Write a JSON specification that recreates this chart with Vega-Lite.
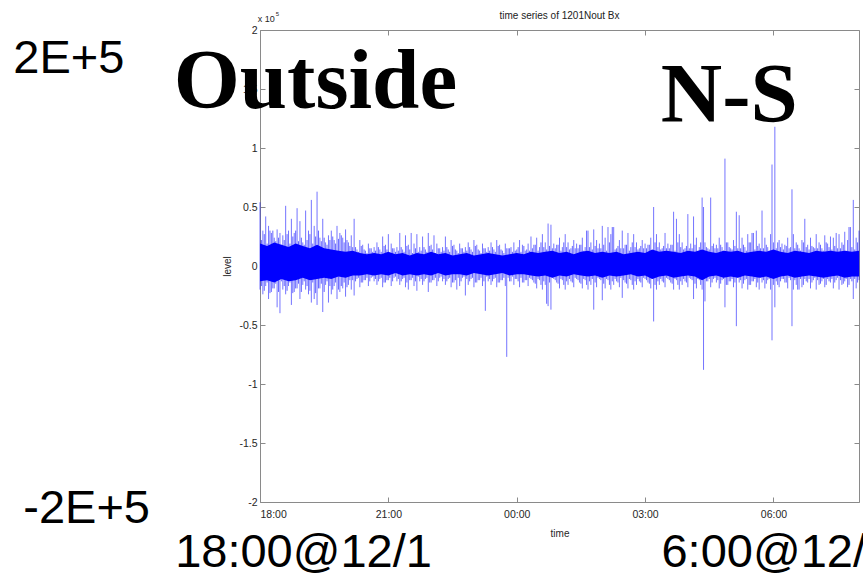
{
  "$schema": "https://vega.github.io/schema/vega-lite/v6.json",
  "width": 599,
  "height": 472,
  "autosize": {"type": "none"},
  "padding": {"left": 260, "top": 30, "right": 4, "bottom": 75},
  "background": "white",
  "config": {
    "view": {"stroke": null},
    "font": "Liberation Sans",
    "axis": {
      "grid": false,
      "domainColor": "#8a8a8a",
      "tickColor": "#8a8a8a",
      "labelColor": "#262626",
      "titleColor": "#262626",
      "labelFont": "Liberation Sans",
      "titleFont": "Liberation Sans",
      "labelFontSize": 10.5,
      "titleFontSize": 10,
      "titleFontWeight": "normal",
      "tickSize": -5
    }
  },
  "title": {"text": "time series of 1201Nout Bx", "fontSize": 10, "fontWeight": "normal", "font": "Liberation Sans", "color": "#222222", "offset": -10},
  "datasets": {
    "core": [
      {"m":0,"top":0.19,"bot":-0.13},{"m":10,"top":0.17,"bot":-0.12},{"m":20,"top":0.2,"bot":-0.14},{"m":30,"top":0.18,"bot":-0.11},
      {"m":40,"top":0.16,"bot":-0.13},{"m":50,"top":0.19,"bot":-0.12},{"m":60,"top":0.17,"bot":-0.1},{"m":70,"top":0.15,"bot":-0.12},
      {"m":80,"top":0.18,"bot":-0.11},{"m":90,"top":0.15,"bot":-0.1},{"m":100,"top":0.14,"bot":-0.11},{"m":110,"top":0.13,"bot":-0.09},
      {"m":120,"top":0.12,"bot":-0.1},{"m":130,"top":0.13,"bot":-0.08},{"m":140,"top":0.11,"bot":-0.08},{"m":150,"top":0.1,"bot":-0.07},
      {"m":160,"top":0.11,"bot":-0.08},{"m":170,"top":0.1,"bot":-0.07},{"m":180,"top":0.12,"bot":-0.08},{"m":190,"top":0.1,"bot":-0.06},
      {"m":200,"top":0.11,"bot":-0.08},{"m":210,"top":0.09,"bot":-0.07},{"m":220,"top":0.11,"bot":-0.08},{"m":230,"top":0.1,"bot":-0.07},
      {"m":240,"top":0.12,"bot":-0.08},{"m":250,"top":0.1,"bot":-0.06},{"m":260,"top":0.11,"bot":-0.08},{"m":270,"top":0.09,"bot":-0.07},
      {"m":280,"top":0.1,"bot":-0.07},{"m":290,"top":0.11,"bot":-0.08},{"m":300,"top":0.09,"bot":-0.06},{"m":310,"top":0.1,"bot":-0.07},
      {"m":320,"top":0.11,"bot":-0.08},{"m":330,"top":0.1,"bot":-0.07},{"m":340,"top":0.09,"bot":-0.06},{"m":350,"top":0.1,"bot":-0.08},
      {"m":360,"top":0.11,"bot":-0.07},{"m":370,"top":0.1,"bot":-0.07},{"m":380,"top":0.12,"bot":-0.08},{"m":390,"top":0.11,"bot":-0.09},
      {"m":400,"top":0.12,"bot":-0.08},{"m":410,"top":0.13,"bot":-0.1},{"m":420,"top":0.11,"bot":-0.08},{"m":430,"top":0.12,"bot":-0.09},
      {"m":440,"top":0.1,"bot":-0.07},{"m":450,"top":0.12,"bot":-0.08},{"m":460,"top":0.13,"bot":-0.09},{"m":470,"top":0.11,"bot":-0.08},
      {"m":480,"top":0.12,"bot":-0.1},{"m":490,"top":0.11,"bot":-0.08},{"m":500,"top":0.12,"bot":-0.09},{"m":510,"top":0.1,"bot":-0.08},
      {"m":520,"top":0.11,"bot":-0.07},{"m":530,"top":0.12,"bot":-0.09},{"m":540,"top":0.11,"bot":-0.08},{"m":550,"top":0.14,"bot":-0.11},
      {"m":560,"top":0.12,"bot":-0.09},{"m":570,"top":0.13,"bot":-0.08},{"m":580,"top":0.12,"bot":-0.1},{"m":590,"top":0.11,"bot":-0.09},
      {"m":600,"top":0.13,"bot":-0.08},{"m":610,"top":0.12,"bot":-0.09},{"m":620,"top":0.14,"bot":-0.12},{"m":630,"top":0.12,"bot":-0.09},
      {"m":640,"top":0.11,"bot":-0.08},{"m":650,"top":0.13,"bot":-0.1},{"m":660,"top":0.12,"bot":-0.09},{"m":670,"top":0.13,"bot":-0.1},
      {"m":680,"top":0.11,"bot":-0.08},{"m":690,"top":0.12,"bot":-0.09},{"m":700,"top":0.13,"bot":-0.1},{"m":710,"top":0.12,"bot":-0.09},
      {"m":720,"top":0.14,"bot":-0.11},{"m":730,"top":0.12,"bot":-0.09},{"m":740,"top":0.11,"bot":-0.08},{"m":750,"top":0.13,"bot":-0.1},
      {"m":760,"top":0.12,"bot":-0.09},{"m":770,"top":0.11,"bot":-0.08},{"m":780,"top":0.13,"bot":-0.09},{"m":790,"top":0.12,"bot":-0.1},
      {"m":800,"top":0.13,"bot":-0.09},{"m":810,"top":0.12,"bot":-0.08},{"m":820,"top":0.13,"bot":-0.1},{"m":830,"top":0.12,"bot":-0.09},
      {"m":840,"top":0.13,"bot":-0.09}
    ],
    "series": [
      {"m":0,"hi":0.54,"lo":-0.2},{"m":4,"hi":0.3,"lo":-0.24},{"m":8,"hi":0.42,"lo":-0.17},{"m":12,"hi":0.34,"lo":-0.28},
      {"m":16,"hi":0.28,"lo":-0.22},{"m":20,"hi":0.24,"lo":-0.19},{"m":24,"hi":0.31,"lo":-0.35},{"m":28,"hi":0.28,"lo":-0.4},
      {"m":32,"hi":0.26,"lo":-0.2},{"m":36,"hi":0.51,"lo":-0.24},{"m":40,"hi":0.3,"lo":-0.17},{"m":44,"hi":0.4,"lo":-0.33},
      {"m":48,"hi":0.28,"lo":-0.22},{"m":52,"hi":0.49,"lo":-0.19},{"m":56,"hi":0.38,"lo":-0.28},{"m":60,"hi":0.2,"lo":-0.16},
      {"m":64,"hi":0.47,"lo":-0.2},{"m":68,"hi":0.3,"lo":-0.24},{"m":72,"hi":0.56,"lo":-0.31},{"m":76,"hi":0.34,"lo":-0.28},
      {"m":80,"hi":0.63,"lo":-0.33},{"m":84,"hi":0.24,"lo":-0.19},{"m":88,"hi":0.4,"lo":-0.39},{"m":92,"hi":0.2,"lo":-0.16},
      {"m":96,"hi":0.26,"lo":-0.31},{"m":100,"hi":0.3,"lo":-0.24},{"m":104,"hi":0.22,"lo":-0.17},{"m":108,"hi":0.34,"lo":-0.28},
      {"m":112,"hi":0.28,"lo":-0.22},{"m":116,"hi":0.24,"lo":-0.19},{"m":120,"hi":0.31,"lo":-0.26},{"m":124,"hi":0.2,"lo":-0.16},
      {"m":128,"hi":0.26,"lo":-0.2},{"m":132,"hi":0.4,"lo":-0.25},{"m":136,"hi":0.14,"lo":-0.11},{"m":140,"hi":0.22,"lo":-0.18},
      {"m":144,"hi":0.18,"lo":-0.14},{"m":148,"hi":0.13,"lo":-0.12},{"m":152,"hi":0.19,"lo":-0.17},{"m":156,"hi":0.15,"lo":-0.1},
      {"m":160,"hi":0.16,"lo":-0.13},{"m":164,"hi":0.2,"lo":-0.16},{"m":168,"hi":0.14,"lo":-0.11},{"m":172,"hi":0.25,"lo":-0.18},
      {"m":176,"hi":0.18,"lo":-0.14},{"m":180,"hi":0.27,"lo":-0.12},{"m":184,"hi":0.19,"lo":-0.17},{"m":188,"hi":0.15,"lo":-0.1},
      {"m":192,"hi":0.16,"lo":-0.13},{"m":196,"hi":0.28,"lo":-0.16},{"m":200,"hi":0.14,"lo":-0.11},{"m":204,"hi":0.26,"lo":-0.18},
      {"m":208,"hi":0.18,"lo":-0.2},{"m":212,"hi":0.28,"lo":-0.12},{"m":216,"hi":0.19,"lo":-0.17},{"m":220,"hi":0.27,"lo":-0.21},
      {"m":224,"hi":0.16,"lo":-0.13},{"m":228,"hi":0.25,"lo":-0.16},{"m":232,"hi":0.14,"lo":-0.11},{"m":236,"hi":0.28,"lo":-0.22},
      {"m":240,"hi":0.18,"lo":-0.14},{"m":244,"hi":0.26,"lo":-0.12},{"m":248,"hi":0.19,"lo":-0.17},{"m":252,"hi":0.15,"lo":-0.1},
      {"m":256,"hi":0.16,"lo":-0.13},{"m":260,"hi":0.25,"lo":-0.16},{"m":264,"hi":0.14,"lo":-0.11},{"m":268,"hi":0.22,"lo":-0.18},
      {"m":272,"hi":0.18,"lo":-0.14},{"m":276,"hi":0.13,"lo":-0.2},{"m":280,"hi":0.19,"lo":-0.17},{"m":284,"hi":0.15,"lo":-0.1},
      {"m":288,"hi":0.16,"lo":-0.25},{"m":292,"hi":0.2,"lo":-0.16},{"m":296,"hi":0.14,"lo":-0.11},{"m":300,"hi":0.22,"lo":-0.18},
      {"m":304,"hi":0.18,"lo":-0.14},{"m":308,"hi":0.13,"lo":-0.12},{"m":312,"hi":0.19,"lo":-0.17},{"m":316,"hi":0.15,"lo":-0.38},
      {"m":320,"hi":0.16,"lo":-0.13},{"m":324,"hi":0.2,"lo":-0.16},{"m":328,"hi":0.14,"lo":-0.11},{"m":332,"hi":0.22,"lo":-0.18},
      {"m":336,"hi":0.18,"lo":-0.14},{"m":340,"hi":0.13,"lo":-0.12},{"m":344,"hi":0.19,"lo":-0.17},{"m":346,"hi":0.15,"lo":-0.77},
      {"m":348,"hi":0.15,"lo":-0.1},{"m":352,"hi":0.16,"lo":-0.13},{"m":356,"hi":0.2,"lo":-0.16},{"m":360,"hi":0.14,"lo":-0.11},
      {"m":364,"hi":0.22,"lo":-0.18},{"m":368,"hi":0.18,"lo":-0.14},{"m":372,"hi":0.13,"lo":-0.12},{"m":376,"hi":0.19,"lo":-0.17},
      {"m":380,"hi":0.25,"lo":-0.11},{"m":384,"hi":0.18,"lo":-0.14},{"m":388,"hi":0.24,"lo":-0.19},{"m":392,"hi":0.16,"lo":-0.12},
      {"m":396,"hi":0.27,"lo":-0.2},{"m":400,"hi":0.2,"lo":-0.16},{"m":404,"hi":0.36,"lo":-0.34},{"m":408,"hi":0.35,"lo":-0.37},
      {"m":412,"hi":0.19,"lo":-0.11},{"m":416,"hi":0.18,"lo":-0.14},{"m":420,"hi":0.24,"lo":-0.19},{"m":424,"hi":0.16,"lo":-0.12},
      {"m":428,"hi":0.27,"lo":-0.2},{"m":432,"hi":0.2,"lo":-0.16},{"m":436,"hi":0.15,"lo":-0.13},{"m":440,"hi":0.22,"lo":-0.18},
      {"m":444,"hi":0.19,"lo":-0.11},{"m":448,"hi":0.18,"lo":-0.14},{"m":452,"hi":0.24,"lo":-0.19},{"m":456,"hi":0.16,"lo":-0.12},
      {"m":460,"hi":0.3,"lo":-0.2},{"m":464,"hi":0.2,"lo":-0.16},{"m":468,"hi":0.31,"lo":-0.37},{"m":472,"hi":0.22,"lo":-0.18},
      {"m":476,"hi":0.19,"lo":-0.11},{"m":480,"hi":0.34,"lo":-0.29},{"m":484,"hi":0.24,"lo":-0.19},{"m":488,"hi":0.33,"lo":-0.12},
      {"m":492,"hi":0.27,"lo":-0.2},{"m":496,"hi":0.33,"lo":-0.16},{"m":500,"hi":0.15,"lo":-0.13},{"m":504,"hi":0.22,"lo":-0.18},
      {"m":508,"hi":0.3,"lo":-0.27},{"m":512,"hi":0.18,"lo":-0.14},{"m":516,"hi":0.28,"lo":-0.19},{"m":520,"hi":0.16,"lo":-0.12},
      {"m":524,"hi":0.27,"lo":-0.2},{"m":528,"hi":0.2,"lo":-0.16},{"m":532,"hi":0.15,"lo":-0.13},{"m":536,"hi":0.22,"lo":-0.18},
      {"m":540,"hi":0.19,"lo":-0.11},{"m":544,"hi":0.18,"lo":-0.14},{"m":548,"hi":0.24,"lo":-0.19},{"m":552,"hi":0.5,"lo":-0.47},
      {"m":556,"hi":0.27,"lo":-0.2},{"m":560,"hi":0.2,"lo":-0.16},{"m":564,"hi":0.15,"lo":-0.13},{"m":568,"hi":0.28,"lo":-0.18},
      {"m":572,"hi":0.19,"lo":-0.11},{"m":576,"hi":0.18,"lo":-0.14},{"m":580,"hi":0.46,"lo":-0.2},{"m":584,"hi":0.4,"lo":-0.12},
      {"m":588,"hi":0.27,"lo":-0.2},{"m":592,"hi":0.2,"lo":-0.16},{"m":596,"hi":0.15,"lo":-0.13},{"m":600,"hi":0.44,"lo":-0.18},
      {"m":604,"hi":0.19,"lo":-0.11},{"m":608,"hi":0.42,"lo":-0.28},{"m":612,"hi":0.24,"lo":-0.19},{"m":616,"hi":0.16,"lo":-0.12},
      {"m":620,"hi":0.58,"lo":-0.2},{"m":622,"hi":0.5,"lo":-0.88},{"m":624,"hi":0.2,"lo":-0.3},{"m":628,"hi":0.15,"lo":-0.13},
      {"m":632,"hi":0.58,"lo":-0.18},{"m":636,"hi":0.19,"lo":-0.11},{"m":640,"hi":0.18,"lo":-0.14},{"m":644,"hi":0.24,"lo":-0.19},
      {"m":648,"hi":0.16,"lo":-0.12},{"m":652,"hi":0.91,"lo":-0.35},{"m":656,"hi":0.2,"lo":-0.16},{"m":660,"hi":0.15,"lo":-0.13},
      {"m":664,"hi":0.22,"lo":-0.18},{"m":668,"hi":0.46,"lo":-0.51},{"m":672,"hi":0.43,"lo":-0.14},{"m":676,"hi":0.24,"lo":-0.19},
      {"m":680,"hi":0.16,"lo":-0.12},{"m":684,"hi":0.27,"lo":-0.2},{"m":688,"hi":0.2,"lo":-0.16},{"m":692,"hi":0.28,"lo":-0.13},
      {"m":696,"hi":0.3,"lo":-0.18},{"m":700,"hi":0.19,"lo":-0.2},{"m":704,"hi":0.47,"lo":-0.14},{"m":708,"hi":0.24,"lo":-0.19},
      {"m":712,"hi":0.16,"lo":-0.12},{"m":716,"hi":0.27,"lo":-0.2},{"m":718,"hi":0.86,"lo":-0.63},{"m":720,"hi":0.2,"lo":-0.16},
      {"m":722,"hi":1.18,"lo":-0.35},{"m":724,"hi":0.15,"lo":-0.13},{"m":728,"hi":0.22,"lo":-0.18},{"m":732,"hi":0.19,"lo":-0.11},
      {"m":736,"hi":0.18,"lo":-0.14},{"m":740,"hi":0.24,"lo":-0.19},{"m":744,"hi":0.16,"lo":-0.12},{"m":746,"hi":0.65,"lo":-0.51},
      {"m":748,"hi":0.27,"lo":-0.2},{"m":752,"hi":0.2,"lo":-0.16},{"m":756,"hi":0.15,"lo":-0.2},{"m":760,"hi":0.22,"lo":-0.18},
      {"m":764,"hi":0.4,"lo":-0.11},{"m":768,"hi":0.18,"lo":-0.14},{"m":772,"hi":0.24,"lo":-0.19},{"m":776,"hi":0.16,"lo":-0.12},
      {"m":780,"hi":0.27,"lo":-0.2},{"m":784,"hi":0.2,"lo":-0.16},{"m":788,"hi":0.15,"lo":-0.13},{"m":792,"hi":0.26,"lo":-0.18},
      {"m":796,"hi":0.19,"lo":-0.11},{"m":800,"hi":0.25,"lo":-0.14},{"m":804,"hi":0.24,"lo":-0.19},{"m":808,"hi":0.28,"lo":-0.12},
      {"m":812,"hi":0.27,"lo":-0.2},{"m":816,"hi":0.2,"lo":-0.16},{"m":820,"hi":0.29,"lo":-0.13},{"m":824,"hi":0.22,"lo":-0.18},
      {"m":828,"hi":0.33,"lo":-0.11},{"m":832,"hi":0.56,"lo":-0.28},{"m":836,"hi":0.24,"lo":-0.19},{"m":840,"hi":0.3,"lo":-0.12}
    ],
    "fuzz": [
      {"m":2,"hi":0.22,"lo":-0.17},{"m":6,"hi":0.27,"lo":-0.21},{"m":10,"hi":0.19,"lo":-0.14},{"m":14,"hi":0.3,"lo":-0.23},
      {"m":18,"hi":0.3,"lo":-0.19},{"m":22,"hi":0.21,"lo":-0.15},{"m":26,"hi":0.24,"lo":-0.22},{"m":30,"hi":0.18,"lo":-0.13},
      {"m":34,"hi":0.22,"lo":-0.17},{"m":38,"hi":0.27,"lo":-0.21},{"m":42,"hi":0.19,"lo":-0.14},{"m":46,"hi":0.25,"lo":-0.23},
      {"m":50,"hi":0.3,"lo":-0.19},{"m":54,"hi":0.21,"lo":-0.15},{"m":58,"hi":0.24,"lo":-0.22},{"m":62,"hi":0.18,"lo":-0.13},
      {"m":66,"hi":0.22,"lo":-0.17},{"m":70,"hi":0.27,"lo":-0.21},{"m":74,"hi":0.19,"lo":-0.14},{"m":78,"hi":0.25,"lo":-0.23},
      {"m":82,"hi":0.3,"lo":-0.19},{"m":86,"hi":0.21,"lo":-0.15},{"m":90,"hi":0.24,"lo":-0.22},{"m":94,"hi":0.18,"lo":-0.13},
      {"m":98,"hi":0.22,"lo":-0.17},{"m":102,"hi":0.25,"lo":-0.2},{"m":106,"hi":0.19,"lo":-0.14},{"m":110,"hi":0.23,"lo":-0.2},
      {"m":114,"hi":0.26,"lo":-0.17},{"m":118,"hi":0.2,"lo":-0.14},{"m":122,"hi":0.22,"lo":-0.18},{"m":126,"hi":0.17,"lo":-0.12},
      {"m":130,"hi":0.16,"lo":-0.12},{"m":134,"hi":0.16,"lo":-0.13},{"m":138,"hi":0.12,"lo":-0.1},{"m":142,"hi":0.17,"lo":-0.14},
      {"m":146,"hi":0.14,"lo":-0.12},{"m":150,"hi":0.11,"lo":-0.1},{"m":154,"hi":0.15,"lo":-0.13},{"m":158,"hi":0.12,"lo":-0.09},
      {"m":162,"hi":0.13,"lo":-0.11},{"m":166,"hi":0.16,"lo":-0.13},{"m":170,"hi":0.12,"lo":-0.1},{"m":174,"hi":0.17,"lo":-0.14},
      {"m":178,"hi":0.14,"lo":-0.12},{"m":182,"hi":0.11,"lo":-0.1},{"m":186,"hi":0.15,"lo":-0.13},{"m":190,"hi":0.12,"lo":-0.09},
      {"m":194,"hi":0.13,"lo":-0.11},{"m":198,"hi":0.16,"lo":-0.13},{"m":202,"hi":0.12,"lo":-0.1},{"m":206,"hi":0.17,"lo":-0.14},
      {"m":210,"hi":0.14,"lo":-0.12},{"m":214,"hi":0.11,"lo":-0.1},{"m":218,"hi":0.15,"lo":-0.13},{"m":222,"hi":0.12,"lo":-0.09},
      {"m":226,"hi":0.13,"lo":-0.11},{"m":230,"hi":0.16,"lo":-0.13},{"m":234,"hi":0.12,"lo":-0.1},{"m":238,"hi":0.17,"lo":-0.14},
      {"m":242,"hi":0.14,"lo":-0.12},{"m":246,"hi":0.11,"lo":-0.1},{"m":250,"hi":0.15,"lo":-0.13},{"m":254,"hi":0.12,"lo":-0.09},
      {"m":258,"hi":0.13,"lo":-0.11},{"m":262,"hi":0.16,"lo":-0.13},{"m":266,"hi":0.12,"lo":-0.1},{"m":270,"hi":0.17,"lo":-0.14},
      {"m":274,"hi":0.14,"lo":-0.12},{"m":278,"hi":0.11,"lo":-0.1},{"m":282,"hi":0.15,"lo":-0.13},{"m":286,"hi":0.12,"lo":-0.09},
      {"m":290,"hi":0.13,"lo":-0.11},{"m":294,"hi":0.16,"lo":-0.13},{"m":298,"hi":0.12,"lo":-0.1},{"m":302,"hi":0.17,"lo":-0.14},
      {"m":306,"hi":0.14,"lo":-0.12},{"m":310,"hi":0.11,"lo":-0.1},{"m":314,"hi":0.15,"lo":-0.13},{"m":318,"hi":0.12,"lo":-0.09},
      {"m":322,"hi":0.13,"lo":-0.11},{"m":326,"hi":0.16,"lo":-0.13},{"m":330,"hi":0.12,"lo":-0.1},{"m":334,"hi":0.17,"lo":-0.14},
      {"m":338,"hi":0.14,"lo":-0.12},{"m":342,"hi":0.11,"lo":-0.1},{"m":350,"hi":0.15,"lo":-0.13},{"m":354,"hi":0.12,"lo":-0.09},
      {"m":358,"hi":0.13,"lo":-0.11},{"m":362,"hi":0.16,"lo":-0.13},{"m":366,"hi":0.12,"lo":-0.1},{"m":370,"hi":0.17,"lo":-0.14},
      {"m":374,"hi":0.14,"lo":-0.12},{"m":378,"hi":0.13,"lo":-0.1},{"m":382,"hi":0.15,"lo":-0.12},{"m":386,"hi":0.18,"lo":-0.15},
      {"m":390,"hi":0.13,"lo":-0.11},{"m":394,"hi":0.2,"lo":-0.16},{"m":398,"hi":0.16,"lo":-0.13},{"m":402,"hi":0.14,"lo":-0.32},
      {"m":406,"hi":0.17,"lo":-0.14},{"m":410,"hi":0.15,"lo":-0.1},{"m":414,"hi":0.15,"lo":-0.12},{"m":418,"hi":0.18,"lo":-0.15},
      {"m":422,"hi":0.13,"lo":-0.11},{"m":426,"hi":0.2,"lo":-0.16},{"m":430,"hi":0.16,"lo":-0.13},{"m":434,"hi":0.14,"lo":-0.11},
      {"m":438,"hi":0.17,"lo":-0.14},{"m":442,"hi":0.15,"lo":-0.1},{"m":446,"hi":0.15,"lo":-0.12},{"m":450,"hi":0.18,"lo":-0.15},
      {"m":454,"hi":0.13,"lo":-0.11},{"m":458,"hi":0.3,"lo":-0.16},{"m":462,"hi":0.16,"lo":-0.13},{"m":466,"hi":0.14,"lo":-0.11},
      {"m":470,"hi":0.17,"lo":-0.14},{"m":474,"hi":0.15,"lo":-0.1},{"m":478,"hi":0.15,"lo":-0.12},{"m":482,"hi":0.18,"lo":-0.15},
      {"m":486,"hi":0.13,"lo":-0.11},{"m":490,"hi":0.2,"lo":-0.16},{"m":494,"hi":0.33,"lo":-0.13},{"m":498,"hi":0.14,"lo":-0.11},
      {"m":502,"hi":0.17,"lo":-0.14},{"m":506,"hi":0.15,"lo":-0.1},{"m":510,"hi":0.15,"lo":-0.12},{"m":514,"hi":0.18,"lo":-0.15},
      {"m":518,"hi":0.13,"lo":-0.11},{"m":522,"hi":0.2,"lo":-0.16},{"m":526,"hi":0.16,"lo":-0.13},{"m":530,"hi":0.14,"lo":-0.11},
      {"m":534,"hi":0.17,"lo":-0.14},{"m":538,"hi":0.15,"lo":-0.1},{"m":542,"hi":0.15,"lo":-0.12},{"m":546,"hi":0.18,"lo":-0.15},
      {"m":550,"hi":0.13,"lo":-0.11},{"m":554,"hi":0.2,"lo":-0.16},{"m":558,"hi":0.16,"lo":-0.13},{"m":562,"hi":0.14,"lo":-0.11},
      {"m":566,"hi":0.17,"lo":-0.14},{"m":570,"hi":0.15,"lo":-0.1},{"m":574,"hi":0.15,"lo":-0.12},{"m":578,"hi":0.18,"lo":-0.15},
      {"m":582,"hi":0.13,"lo":-0.11},{"m":586,"hi":0.2,"lo":-0.16},{"m":590,"hi":0.16,"lo":-0.13},{"m":594,"hi":0.14,"lo":-0.11},
      {"m":598,"hi":0.17,"lo":-0.14},{"m":602,"hi":0.15,"lo":-0.1},{"m":606,"hi":0.15,"lo":-0.12},{"m":610,"hi":0.18,"lo":-0.15},
      {"m":614,"hi":0.13,"lo":-0.11},{"m":618,"hi":0.2,"lo":-0.16},{"m":626,"hi":0.16,"lo":-0.13},{"m":630,"hi":0.14,"lo":-0.11},
      {"m":634,"hi":0.17,"lo":-0.14},{"m":638,"hi":0.15,"lo":-0.1},{"m":642,"hi":0.15,"lo":-0.12},{"m":646,"hi":0.18,"lo":-0.15},
      {"m":650,"hi":0.13,"lo":-0.11},{"m":654,"hi":0.2,"lo":-0.16},{"m":658,"hi":0.16,"lo":-0.13},{"m":662,"hi":0.14,"lo":-0.11},
      {"m":666,"hi":0.17,"lo":-0.14},{"m":670,"hi":0.15,"lo":-0.1},{"m":674,"hi":0.15,"lo":-0.12},{"m":678,"hi":0.18,"lo":-0.15},
      {"m":682,"hi":0.13,"lo":-0.11},{"m":686,"hi":0.2,"lo":-0.16},{"m":690,"hi":0.28,"lo":-0.13},{"m":694,"hi":0.14,"lo":-0.11},
      {"m":698,"hi":0.17,"lo":-0.14},{"m":702,"hi":0.15,"lo":-0.1},{"m":706,"hi":0.15,"lo":-0.12},{"m":710,"hi":0.18,"lo":-0.15},
      {"m":714,"hi":0.13,"lo":-0.11},{"m":726,"hi":0.2,"lo":-0.16},{"m":730,"hi":0.16,"lo":-0.13},{"m":734,"hi":0.14,"lo":-0.11},
      {"m":738,"hi":0.17,"lo":-0.14},{"m":742,"hi":0.15,"lo":-0.1},{"m":750,"hi":0.15,"lo":-0.12},{"m":754,"hi":0.18,"lo":-0.2},
      {"m":758,"hi":0.13,"lo":-0.11},{"m":762,"hi":0.2,"lo":-0.16},{"m":766,"hi":0.16,"lo":-0.13},{"m":770,"hi":0.14,"lo":-0.11},
      {"m":774,"hi":0.17,"lo":-0.14},{"m":778,"hi":0.15,"lo":-0.1},{"m":782,"hi":0.15,"lo":-0.12},{"m":786,"hi":0.18,"lo":-0.15},
      {"m":790,"hi":0.13,"lo":-0.11},{"m":794,"hi":0.2,"lo":-0.16},{"m":798,"hi":0.16,"lo":-0.13},{"m":802,"hi":0.14,"lo":-0.11},
      {"m":806,"hi":0.17,"lo":-0.14},{"m":810,"hi":0.15,"lo":-0.1},{"m":814,"hi":0.15,"lo":-0.12},{"m":818,"hi":0.18,"lo":-0.15},
      {"m":822,"hi":0.13,"lo":-0.11},{"m":826,"hi":0.33,"lo":-0.16},{"m":830,"hi":0.16,"lo":-0.13},{"m":834,"hi":0.14,"lo":-0.11},
      {"m":838,"hi":0.2,"lo":-0.14}
    ],
    "sansNotes": [
      {"m": -346, "v": 1.636, "label": "2E+5"},
      {"m": -332, "v": -2.178, "label": "-2E+5"},
      {"m": -119, "v": -2.55, "label": "18:00@12/1"},
      {"m": 563, "v": -2.55, "label": "6:00@12/2"}
    ],
    "serifNotes": [
      {"m": -121, "v": 1.339, "label": "Outside"},
      {"m": 562, "v": 1.22, "label": "N-S"}
    ],
    "expNote": [
      {"m": -3, "v": 2.07, "label": "x 10"}
    ],
    "expSup": [
      {"m": 22, "v": 2.12, "label": "5"}
    ]
  },
  "resolve": {"axis": {"x": "independent", "y": "independent"}},
  "layer": [
    {
      "data": {"name": "core"},
      "mark": {"type": "area", "color": "#0000ff", "opacity": 1},
      "encoding": {
        "x": {"field": "m", "type": "quantitative",
              "scale": {"domain": [0, 840], "nice": false, "zero": false},
              "axis": {"orient": "bottom", "title": "time", "values": [0, 180, 360, 540, 720],
                       "labelExpr": "['18:00','21:00','00:00','03:00','06:00'][round(datum.value/180)]",
                       "labelPadding": 12, "titlePadding": 9}},
        "y": {"field": "top", "type": "quantitative",
              "scale": {"domain": [-2, 2], "nice": false, "zero": false},
              "axis": {"orient": "left", "title": "level", "values": [-2, -1.5, -1, -0.5, 0, 0.5, 1, 1.5, 2],
                       "labelExpr": "datum.value < 0 ? '-' + format(-datum.value, '~g') : format(datum.value, '~g')",
                       "labelPadding": 8, "titlePadding": 6}},
        "y2": {"field": "bot"}
      }
    },
    {
      "data": {"name": "fuzz"},
      "mark": {"type": "rule", "color": "#0000ff", "opacity": 0.6, "strokeWidth": 1},
      "encoding": {
        "x": {"field": "m", "type": "quantitative", "scale": {"domain": [0, 840], "nice": false, "zero": false}, "axis": null},
        "y": {"field": "hi", "type": "quantitative", "scale": {"domain": [-2, 2], "nice": false, "zero": false}, "axis": null},
        "y2": {"field": "lo"}
      }
    },
    {
      "data": {"name": "series"},
      "mark": {"type": "rule", "color": "#0000ff", "opacity": 0.55, "strokeWidth": 1},
      "encoding": {
        "x": {"field": "m", "type": "quantitative",
              "scale": {"domain": [0, 840], "nice": false, "zero": false},
              "axis": {"orient": "top", "title": null, "labels": false, "values": [0, 180, 360, 540, 720]}},
        "y": {"field": "hi", "type": "quantitative",
              "scale": {"domain": [-2, 2], "nice": false, "zero": false},
              "axis": {"orient": "right", "title": null, "labels": false, "values": [-2, -1.5, -1, -0.5, 0, 0.5, 1, 1.5, 2]}},
        "y2": {"field": "lo"}
      }
    },
    {
      "data": {"name": "sansNotes"},
      "mark": {"type": "text", "font": "Liberation Sans", "fontSize": 47, "align": "left", "baseline": "alphabetic", "color": "black"},
      "encoding": {
        "x": {"field": "m", "type": "quantitative", "scale": {"domain": [0, 840], "nice": false, "zero": false}, "axis": null},
        "y": {"field": "v", "type": "quantitative", "scale": {"domain": [-2, 2], "nice": false, "zero": false}, "axis": null},
        "text": {"field": "label"}
      }
    },
    {
      "data": {"name": "serifNotes"},
      "mark": {"type": "text", "font": "Liberation Serif", "fontWeight": "bold", "fontSize": 85, "align": "left", "baseline": "alphabetic", "color": "black"},
      "encoding": {
        "x": {"field": "m", "type": "quantitative", "scale": {"domain": [0, 840], "nice": false, "zero": false}, "axis": null},
        "y": {"field": "v", "type": "quantitative", "scale": {"domain": [-2, 2], "nice": false, "zero": false}, "axis": null},
        "text": {"field": "label"}
      }
    },
    {
      "data": {"name": "expNote"},
      "mark": {"type": "text", "font": "Liberation Sans", "fontSize": 9, "align": "left", "baseline": "alphabetic", "color": "#262626"},
      "encoding": {
        "x": {"field": "m", "type": "quantitative", "scale": {"domain": [0, 840], "nice": false, "zero": false}, "axis": null},
        "y": {"field": "v", "type": "quantitative", "scale": {"domain": [-2, 2], "nice": false, "zero": false}, "axis": null},
        "text": {"field": "label"}
      }
    },
    {
      "data": {"name": "expSup"},
      "mark": {"type": "text", "font": "Liberation Sans", "fontSize": 6, "align": "left", "baseline": "alphabetic", "color": "#262626"},
      "encoding": {
        "x": {"field": "m", "type": "quantitative", "scale": {"domain": [0, 840], "nice": false, "zero": false}, "axis": null},
        "y": {"field": "v", "type": "quantitative", "scale": {"domain": [-2, 2], "nice": false, "zero": false}, "axis": null},
        "text": {"field": "label"}
      }
    }
  ]
}
